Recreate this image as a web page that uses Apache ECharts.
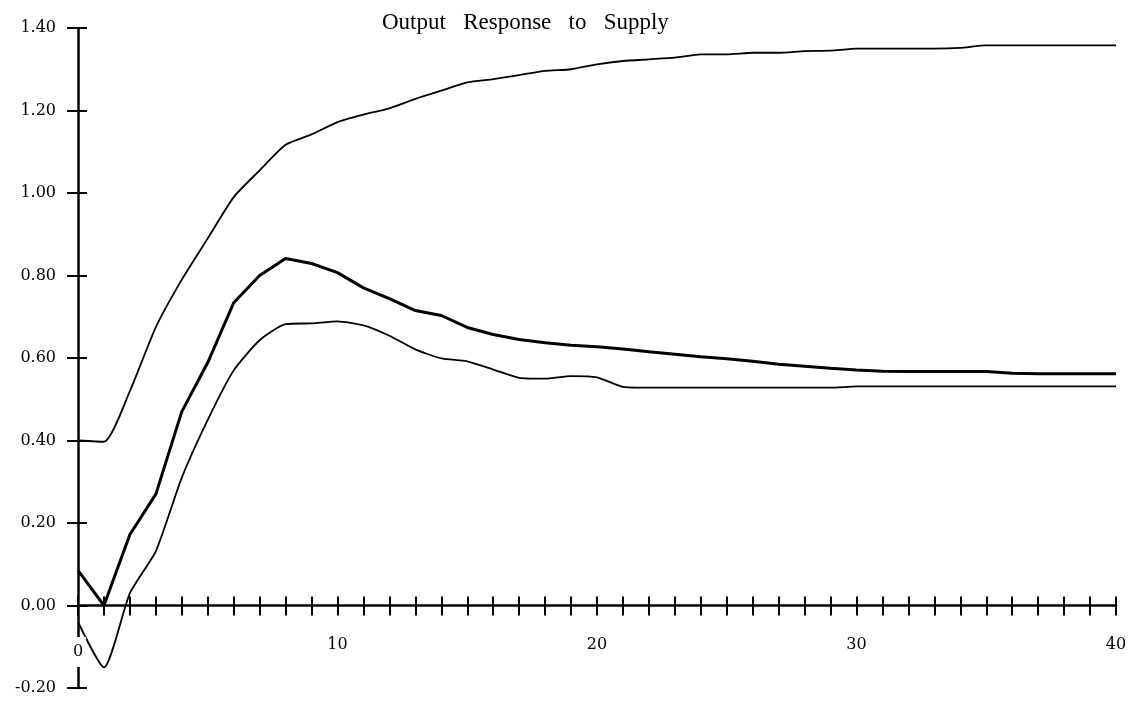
<!DOCTYPE html>
<html>
<head>
<meta charset="utf-8">
<script src="https://cdn.jsdelivr.net/npm/echarts@6/dist/echarts.min.js"></script>
<style>
html,body{margin:0;padding:0;background:#fff;}
#chart{width:1134px;height:708px;}
</style>
</head>
<body>
<div id="chart"></div>
<script>
var titleText = 'Output   Response   to   Supply';
var periods = [0,1,2,3,4,5,6,7,8,9,10,11,12,13,14,15,16,17,18,19,20,21,22,23,24,25,26,27,28,29,30,31,32,33,34,35,36,37,38,39,40];
var response = [0.085,0.00,0.172,0.27,0.47,0.589,0.734,0.80,0.841,0.829,0.807,0.770,0.744,0.715,0.703,0.674,0.657,0.645,0.637,0.631,0.627,0.622,0.615,0.609,0.603,0.598,0.592,0.585,0.580,0.575,0.571,0.568,0.567,0.567,0.567,0.567,0.563,0.562,0.562,0.562,0.562];
var upperBand = [0.400,0.397,0.52,0.675,0.79,0.89,0.99,1.055,1.117,1.142,1.172,1.19,1.205,1.228,1.248,1.268,1.276,1.286,1.296,1.300,1.312,1.320,1.324,1.328,1.336,1.336,1.340,1.340,1.344,1.345,1.350,1.350,1.350,1.350,1.352,1.358,1.358,1.358,1.358,1.358,1.358];
var lowerBand = [-0.04,-0.150,0.03,0.132,0.31,0.45,0.57,0.643,0.682,0.684,0.689,0.679,0.654,0.621,0.599,0.592,0.572,0.552,0.550,0.556,0.553,0.530,0.528,0.528,0.528,0.528,0.528,0.528,0.528,0.528,0.531,0.531,0.531,0.531,0.531,0.531,0.531,0.531,0.531,0.531,0.531];
var xLabelValues = [0,10,20,30,40];

function pairs(vals){ return periods.map(function(t,i){ return [t, vals[i]]; }); }

var chart = echarts.init(document.getElementById('chart'), null, {renderer:'canvas'});
var titleFont = 'Liberation Serif';
var tickFont = 'DejaVu Serif';
var option = {
  backgroundColor:'#fff',
  animation:false,
  title:{
    text:titleText, left:377, top:6,
    textStyle:{fontFamily:titleFont, fontSize:23, fontWeight:'normal', color:'#000'}
  },
  grid:{left:78, right:18, top:28, bottom:20, containLabel:false, outerBoundsMode:'none'},
  xAxis:[{
    type:'value', min:0, max:40, interval:1, position:'bottom', z:5,
    axisLine:{show:true, onZero:true, lineStyle:{color:'#000', width:2.5}},
    axisTick:{show:true, inside:false, length:10, lineStyle:{color:'#000', width:2}},
    splitLine:{show:false},
    axisLabel:{
      margin:-51, color:'#000', fontFamily:tickFont, fontSize:16,
      formatter:function(v){
        if (xLabelValues.indexOf(v) < 0) return '';
        return v === 0 ? '{z|' + v + '}' : String(v);
      },
      rich:{z:{backgroundColor:'#fff', padding:[7,3,7,3], fontFamily:tickFont, fontSize:16, color:'#000'}}
    }
  },{
    type:'value', min:0, max:40, interval:1, position:'bottom', z:5,
    axisLine:{show:false, onZero:true, onZeroAxisIndex:1},
    axisTick:{show:true, inside:true, length:9, lineStyle:{color:'#000', width:2}},
    splitLine:{show:false},
    axisLabel:{show:false}
  }],
  yAxis:[{
    type:'value', min:-0.2, max:1.4, interval:0.2, position:'left', z:1,
    axisLine:{show:true, onZero:false, lineStyle:{color:'#000', width:2.5}},
    axisTick:{show:true, inside:false, length:11, lineStyle:{color:'#000', width:2}},
    splitLine:{show:false},
    axisLabel:{margin:22, color:'#000', fontFamily:tickFont, fontSize:16,
      formatter:function(v){ return v.toFixed(2); }}
  },{
    type:'value', min:-0.2, max:1.4, interval:0.2, position:'left', z:1,
    axisLine:{show:false, onZero:false},
    axisTick:{show:true, inside:true, length:9, lineStyle:{color:'#000', width:2}},
    splitLine:{show:false},
    axisLabel:{show:false}
  }],
  series:[
    {name:'Response', type:'line', data:pairs(response), xAxisIndex:0, yAxisIndex:0, symbol:'none', smooth:false, z:3,
     lineStyle:{color:'#000', width:3}},
    {name:'Upper', type:'line', data:pairs(upperBand), xAxisIndex:0, yAxisIndex:0, symbol:'none', smooth:0.2, z:3,
     lineStyle:{color:'#000', width:1.8}},
    {name:'Lower', type:'line', data:pairs(lowerBand), xAxisIndex:0, yAxisIndex:0, symbol:'none', smooth:0.2, z:3,
     lineStyle:{color:'#000', width:1.8}}
  ]
};
chart.setOption(option);
</script>
</body>
</html>
